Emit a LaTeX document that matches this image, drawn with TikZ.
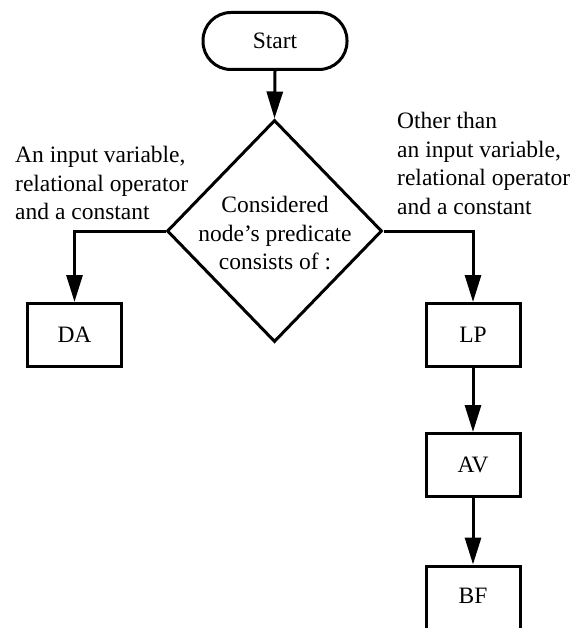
\documentclass[tikz,border=0pt]{standalone}
\usepackage{fontspec}
\setmainfont{Liberation Serif}
\usetikzlibrary{shapes.geometric,arrows.meta}
\tikzset{
  x=1pt, y=-1pt,
  every node/.style={font=\fontsize{23.5}{28.5}\selectfont},
  flowline/.style={line width=3pt},
  arr/.style={flowline, -{Triangle[width=16pt,length=27pt]}},
  procbox/.style={draw, line width=3pt, minimum width=94pt, minimum height=63pt, inner sep=0pt},
  terminal/.style={draw, line width=3pt, rounded corners=28pt, minimum width=144pt, minimum height=57pt, inner sep=0pt},
  decision/.style={draw, diamond, line width=3pt, minimum width=215pt, minimum height=222pt, inner sep=0pt},
  note/.style={align=left, inner sep=0pt}
}
\begin{document}
\begin{tikzpicture}
\clip (0,0) rectangle (576,628);
\fill[white] (0,0) rectangle (576,628);

% start terminal and decision
\node[terminal] (start) at (275,41) {Start};
\node[decision] (dec) at (274.5,231) {};
\node[align=center, inner sep=0pt, anchor=north] (dectext) at (275,196)
  {Considered\\node’s predicate\\consists of :};

% process boxes
\node[procbox] (da) at (74.5,335) {DA};
\node[procbox] (lp) at (473,335) {LP};
\node[procbox] (av) at (473,465) {AV};
\node[procbox, minimum height=130pt] (bf) at (473,631) {};
\node (bflabel) at (473,596) {BF};

% branch labels
\node[note, anchor=north west] (lefttext) at (15,146)
  {An input variable,\\relational operator\\and a constant};
\node[note, anchor=north west] (righttext) at (397,112)
  {Other than\\an input variable,\\relational operator\\and a constant};

% connectors
\draw[arr] (start.south) -- (dec.north);
\draw[arr] (dec.west) -| (da.north);
\draw[arr] (dec.east) -| (lp.north);
\draw[arr] (lp.south) -- (av.north);
\draw[arr] (av.south) -- (bf.north);
\end{tikzpicture}
\end{document}
